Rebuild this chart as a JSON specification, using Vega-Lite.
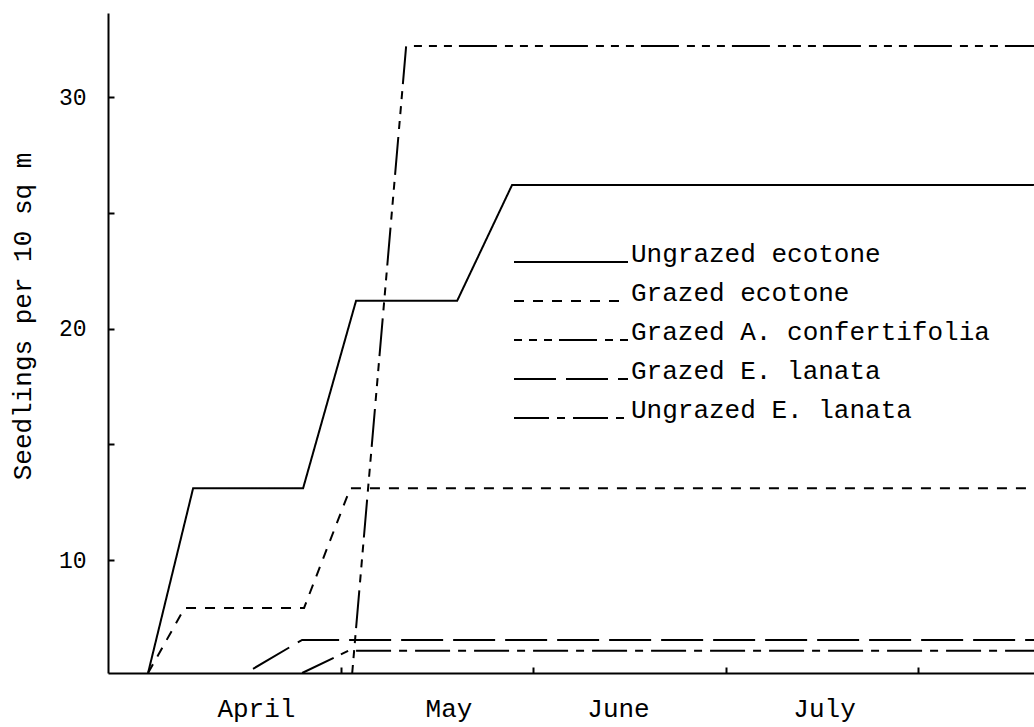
{
  "$schema": "https://vega.github.io/schema/vega-lite/v6.json",
  "width": 926,
  "height": 660,
  "autosize": {"type": "none"},
  "padding": {"left": 108, "top": 13, "right": 0, "bottom": 54},
  "background": "white",
  "config": {"view": {"stroke": null}, "font": "Liberation Mono"},
  "data": {
    "values": [
      {"series": "Ungrazed ecotone", "month": 0, "seedlings": 5.12},
      {"series": "Ungrazed ecotone", "month": 0.234, "seedlings": 13.1},
      {"series": "Ungrazed ecotone", "month": 0.805, "seedlings": 13.1},
      {"series": "Ungrazed ecotone", "month": 1.08, "seedlings": 21.2},
      {"series": "Ungrazed ecotone", "month": 1.605, "seedlings": 21.2},
      {"series": "Ungrazed ecotone", "month": 1.89, "seedlings": 26.2},
      {"series": "Ungrazed ecotone", "month": 4.6, "seedlings": 26.2},
      {"series": "Grazed ecotone", "month": 0, "seedlings": 5.12},
      {"series": "Grazed ecotone", "month": 0.19, "seedlings": 7.93},
      {"series": "Grazed ecotone", "month": 0.81, "seedlings": 7.93},
      {"series": "Grazed ecotone", "month": 1.05, "seedlings": 13.1},
      {"series": "Grazed ecotone", "month": 4.6, "seedlings": 13.1},
      {"series": "Grazed A. confertifolia", "month": 1.06, "seedlings": 5.12},
      {"series": "Grazed A. confertifolia", "month": 1.34, "seedlings": 32.2},
      {"series": "Grazed A. confertifolia", "month": 4.6, "seedlings": 32.2},
      {"series": "Grazed E. lanata", "month": 0.545, "seedlings": 5.3},
      {"series": "Grazed E. lanata", "month": 0.8, "seedlings": 6.55},
      {"series": "Grazed E. lanata", "month": 4.6, "seedlings": 6.55},
      {"series": "Ungrazed E. lanata", "month": 0.8, "seedlings": 5.12},
      {"series": "Ungrazed E. lanata", "month": 1.04, "seedlings": 6.08},
      {"series": "Ungrazed E. lanata", "month": 4.6, "seedlings": 6.08}
    ]
  },
  "mark": {"type": "line", "color": "black", "strokeWidth": 2},
  "encoding": {
    "x": {
      "field": "month",
      "type": "quantitative",
      "scale": {"domain": [-0.208, 4.6], "nice": false, "zero": false},
      "axis": {
        "title": null,
        "grid": false,
        "values": [0.56, 1, 1.56, 2, 2.44, 3, 3.51, 4],
        "labelExpr": "datum.value % 1 == 0 ? '' : datum.value < 1 ? 'April' : datum.value < 2 ? 'May' : datum.value < 3 ? 'June' : 'July'",
        "tickSize": -6,
        "tickWidth": 2,
        "tickColor": "black",
        "tickOpacity": {"condition": {"test": "datum.value % 1 == 0", "value": 1}, "value": 0},
        "domainColor": "black",
        "domainWidth": 2,
        "labelFont": "Liberation Mono",
        "labelFontSize": 26,
        "labelColor": "black",
        "labelBaseline": "top",
        "labelPadding": 28,
        "labelFlush": false,
        "labelOverlap": false
      }
    },
    "y": {
      "field": "seedlings",
      "type": "quantitative",
      "scale": {"domain": [5.12, 33.63], "nice": false, "zero": false},
      "axis": {
        "title": "Seedlings per 10 sq m",
        "grid": false,
        "values": [10, 15, 20, 25, 30],
        "labelExpr": "datum.value % 10 == 0 ? datum.label : ''",
        "tickSize": -6,
        "tickWidth": 2,
        "tickColor": "black",
        "domainColor": "black",
        "domainWidth": 2,
        "labelFont": "Liberation Mono",
        "labelFontSize": 23,
        "labelColor": "black",
        "labelPadding": 28,
        "labelFlush": false,
        "labelOverlap": false,
        "titleFont": "Liberation Mono",
        "titleFontSize": 26,
        "titleFontWeight": "normal",
        "titleColor": "black",
        "titleAngle": -90,
        "titleX": -86,
        "titleY": 303,
        "titleAlign": "center",
        "titleBaseline": "middle"
      }
    },
    "strokeDash": {
      "field": "series",
      "type": "nominal",
      "scale": {
        "domain": ["Ungrazed ecotone", "Grazed ecotone", "Grazed A. confertifolia", "Grazed E. lanata", "Ungrazed E. lanata"],
        "range": [[1, 0], [10, 9], [8, 7, 8, 7, 8, 7, 38, 8], [42, 10], [35, 8, 8, 8]]
      },
      "legend": {
        "orient": "none",
        "direction": "vertical",
        "legendX": 405,
        "legendY": 231,
        "title": null,
        "padding": 0,
        "symbolType": "stroke",
        "symbolSize": 12996,
        "symbolStrokeWidth": 2,
        "symbolStrokeColor": "black",
        "clipHeight": 36,
        "rowPadding": 0,
        "labelFont": "Liberation Mono",
        "labelFontSize": 26,
        "labelColor": "black",
        "labelBaseline": "alphabetic",
        "labelOffset": 2,
        "labelLimit": 0
      }
    }
  }
}
